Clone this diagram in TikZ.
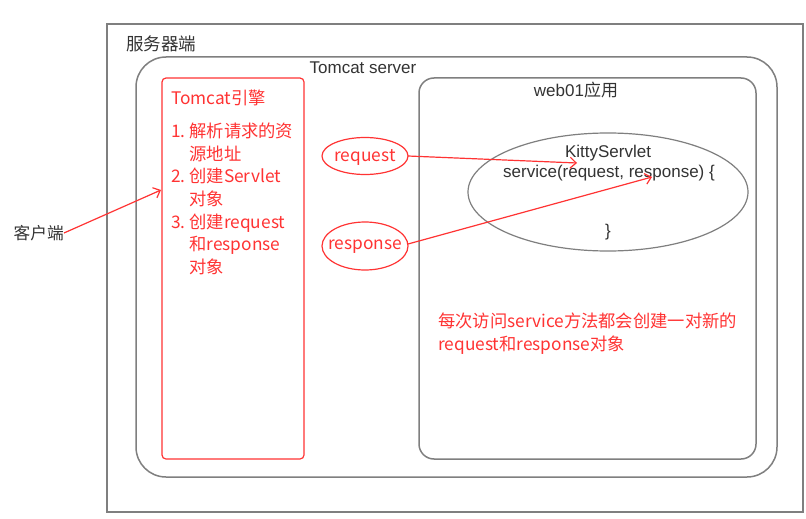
\documentclass[tikz,border=0pt]{standalone}
\usepackage{fontspec}
\setmainfont{Noto Sans CJK SC}
\newfontfamily\arialf{Liberation Sans}
\usetikzlibrary{arrows.meta}
\definecolor{myred}{HTML}{FF3333}
\definecolor{mygray}{HTML}{7F7F7F}
\definecolor{mytext}{HTML}{333333}
\begin{document}
\begin{tikzpicture}[x=1pt,y=-1pt,
  graybox/.style={draw=mygray,line width=1.5pt},
  redtxt/.style={text=myred,font=\fontsize{17.3}{22.7}\selectfont,inner sep=0pt},
  graytxt/.style={text=mytext,font=\arialf\fontsize{17}{21}\selectfont,inner sep=0pt},
  redarrow/.style={draw=myred,line width=1.2pt,-{Straight Barb[length=6pt,width=11pt]}}
]
\useasboundingbox (0,0) rectangle (806,519);
\fill[white] (0,0) rectangle (806,519);
% outer server box
\draw[draw=mygray,line width=2.8pt] (107,24) rectangle (803,512);
\node[anchor=west,text=mytext,font=\fontsize{17.5}{20}\selectfont,inner sep=0pt] (server) at (126,44) {服务器端};
% tomcat server
\draw[graybox,rounded corners=30pt] (136,57) rectangle (777,477);
\node[graytxt] (tomcat) at (363,68) {Tomcat server};
% engine
\draw[draw=myred,line width=1.2pt,rounded corners=4pt] (162,78) rectangle (304,459);
\node[redtxt,anchor=west] (eng) at (171,98) {Tomcat引擎};
\node[redtxt,anchor=north west,align=left] (list) at (171,122.5) {%
1.\ 解析请求的资\\
\hphantom{1.\ }源地址\\
2.\ 创建Servlet\\
\hphantom{2.\ }对象\\
3.\ 创建request\\
\hphantom{3.\ }和response\\
\hphantom{3.\ }对象};
\coordinate (engin) at (161,190);
% web01
\draw[graybox,rounded corners=15pt] (419,78) rectangle (756,459);
\node[graytxt] (web) at (576,90) {web01\textrm{应用}};
% servlet ellipse
\draw[draw=mygray,line width=1.2pt] (608,192) ellipse [x radius=140pt,y radius=59pt];
\node[graytxt] (kitty) at (608,153) {KittyServlet};
\node[graytxt] (svc) at (609,173) {service(request, response) \{};
\node[graytxt] (close) at (608,232) {\}};
\coordinate (reqend) at (577,163);
\coordinate (respend) at (652,177);
% request / response ellipses
\draw[draw=myred,line width=1.2pt] (365,156) ellipse [x radius=43pt,y radius=18.5pt];
\node[redtxt] (req) at (365,157) {request};
\draw[draw=myred,line width=1.2pt] (365,246) ellipse [x radius=43pt,y radius=24pt];
\node[redtxt] (resp) at (365,247) {response};
\coordinate (reqstart) at (408,156);
\coordinate (respstart) at (408,244);
\draw[redarrow] (reqstart) -- (reqend);
\draw[redarrow] (respstart) -- (respend);
% client
\node[anchor=east,text=mytext,font=\fontsize{16.7}{20}\selectfont,inner sep=0pt] (client) at (64,233) {客户端};
\draw[redarrow] (client.east) -- (engin);
% note
\node[redtxt,anchor=north west,align=left] (note) at (438,313) {每次访问service方法都会创建一对新的\\request和response对象};
\end{tikzpicture}
\end{document}
